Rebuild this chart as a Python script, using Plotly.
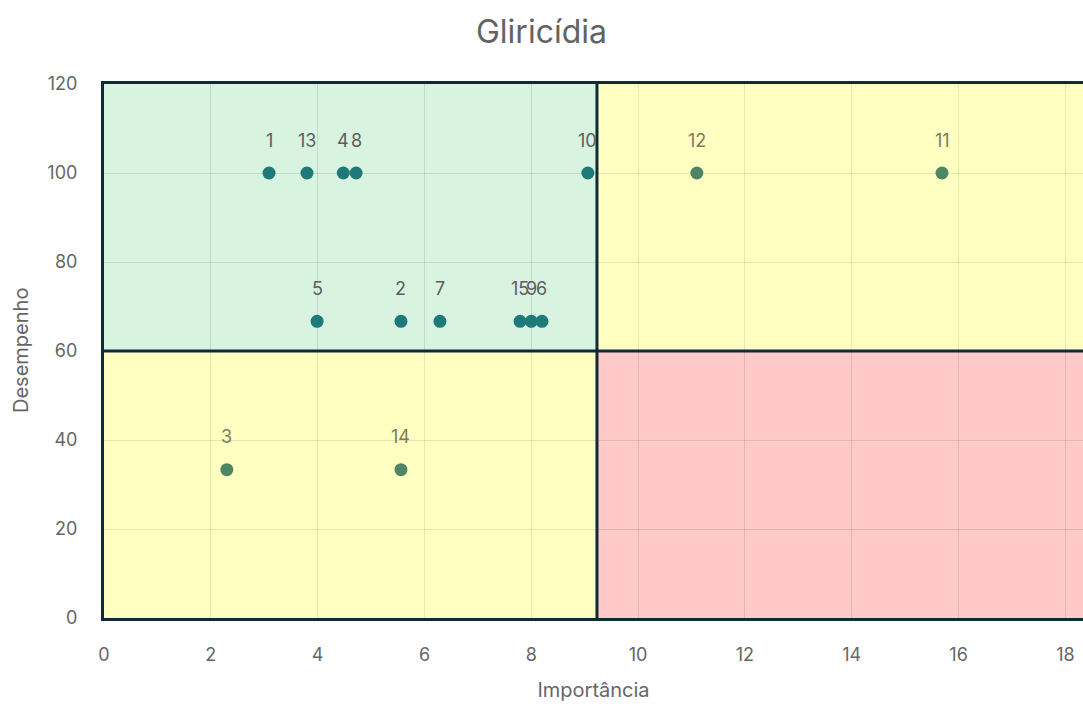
import plotly.graph_objects as go

# Importance vs. performance for each item
labels = ["1", "2", "3", "4", "5", "6", "7", "8", "9", "10", "11", "12", "13", "14", "15"]
importancia = [3.09, 5.56, 2.30, 4.48, 3.99, 8.20, 6.29, 4.72, 8.00, 9.06, 15.69, 11.10, 3.80, 5.56, 7.79]
desempenho = [100, 66.67, 33.33, 100, 66.67, 66.67, 66.67, 100, 66.67, 100, 100, 100, 100, 33.33, 66.67]

x_cut = 9.23   # importance threshold
y_cut = 60     # performance threshold
x_max = 18.33
y_max = 120

def in_green(x, y):
    return x < x_cut and y >= y_cut

marker_colors = ["#1e7a78" if in_green(x, y) else "#4c8663" for x, y in zip(importancia, desempenho)]
label_colors = ["#5e5e5e" if in_green(x, y) else "#7c7c5c" for x, y in zip(importancia, desempenho)]

font_family = "Inter, Roboto, sans-serif"

fig = go.Figure()
fig.add_trace(go.Scatter(
    x=importancia, y=desempenho, mode="markers",
    marker=dict(size=13, color=marker_colors),
    hoverinfo="x+y", showlegend=False,
))

for lab, x, y, c in zip(labels, importancia, desempenho, label_colors):
    fig.add_annotation(x=x, y=y, text=lab, showarrow=False, yshift=33,
                       font=dict(size=18, color=c, family=font_family))

# Quadrant backgrounds and borders
border = "#0f2a38"
quadrants = [
    (0, x_cut, y_cut, y_max, "#d9f3e1"),
    (x_cut, 20, y_cut, y_max, "#ffffc2"),
    (0, x_cut, 0, y_cut, "#ffffc2"),
    (x_cut, 20, 0, y_cut, "#ffc9c9"),
]
for x0, x1, y0, y1, fill in quadrants:
    fig.add_shape(type="rect", x0=x0, x1=x1, y0=y0, y1=y1, xref="x", yref="y",
                  fillcolor=fill, line=dict(width=0), layer="below")
# inner dividing lines
fig.add_shape(type="line", x0=x_cut, x1=x_cut, y0=0, y1=y_max, xref="x", yref="y",
              line=dict(width=3, color=border), layer="above")
fig.add_shape(type="line", x0=0, x1=20, y0=y_cut, y1=y_cut, xref="x", yref="y",
              line=dict(width=3, color=border), layer="above")

tick_font = dict(size=18, color="#666666", family=font_family)
title_font = dict(size=20, color="#666666", family=font_family)

# y-axis title placed as a rotated annotation
fig.add_annotation(text="Desempenho", xref="paper", yref="paper", x=0, y=0.5,
                   xanchor="center", yanchor="middle", xshift=-83, textangle=-90,
                   showarrow=False, font=title_font)

fig.update_layout(
    width=1083, height=704,
    margin=dict(l=104, r=0, t=84, b=86),
    paper_bgcolor="white", plot_bgcolor="white",
    title=dict(text="Gliricídia", x=0.5, xref="container", y=0.955, yanchor="middle",
               font=dict(size=32, color="#636363", family=font_family)),
    xaxis=dict(range=[0, x_max], dtick=2, tick0=0, showgrid=True,
               gridcolor="rgba(0,0,0,0.10)", zeroline=False,
               showline=True, linewidth=3, linecolor=border, mirror=True,
               ticks="outside", ticklen=18, tickcolor="rgba(0,0,0,0)",
               tickfont=tick_font,
               title=dict(text="Importância", standoff=20, font=title_font)),
    yaxis=dict(range=[0, y_max], dtick=20, tick0=0, showgrid=True,
               gridcolor="rgba(0,0,0,0.10)", zeroline=False,
               showline=True, linewidth=3, linecolor=border, mirror=False,
               ticks="outside", ticklen=20, tickcolor="rgba(0,0,0,0)",
               tickfont=tick_font),
)

fig.write_html("out.html")
